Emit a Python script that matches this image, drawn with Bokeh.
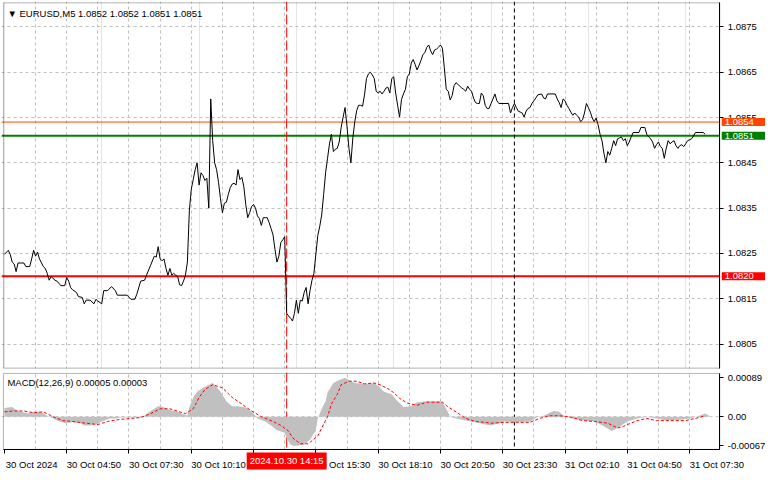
from bokeh.plotting import figure
from bokeh.layouts import column
from bokeh.models import Range1d, FixedTicker, Span, Label, Grid, BoxAnnotation
from bokeh.embed import file_html
from bokeh.resources import INLINE

# ---------------- data (5-minute bars counted from 30 Oct 02:10) ----------------
price_bar = [0, 2, 3, 4, 5, 6, 7, 10, 11, 13, 14, 15, 16, 17, 18, 20, 21, 22, 23, 24,
             26, 27, 29, 31, 32, 33, 34, 35, 37, 38, 40, 41, 42, 44, 46, 47, 48, 50, 51, 53,
             55, 57, 58, 63, 65, 67, 68, 70, 72, 73, 75, 77, 78, 79, 80, 81, 82, 83, 84, 85,
             86, 87, 88, 89, 90, 91, 92, 93, 94, 95, 96, 97, 98, 99,
             100, 101, 102, 103, 104, 105, 106, 107, 108, 109, 110, 111, 112, 113, 114, 115, 116, 117, 118, 119,
             120, 121, 122, 123, 124, 125, 126, 127, 128, 129, 130, 131, 132, 133, 134, 135, 136, 137, 138, 139,
             140, 141, 142, 143, 144, 145, 146, 147, 148, 149, 150, 151, 152, 153, 154, 155, 156, 157, 158, 159,
             160, 161, 162, 163, 164, 165, 166, 167, 168, 169, 170, 171, 172, 173, 174, 175, 176, 177, 178, 179,
             180, 181, 182, 183, 184, 185, 186, 187, 188, 189, 190, 191, 192, 193, 194, 195, 196, 197, 198, 199,
             200, 201, 202, 203, 204, 205, 206, 207, 208, 209, 210, 211, 212, 213, 214, 215, 216, 217, 218, 219,
             220, 221, 222, 223, 224, 225, 226, 227, 228, 229, 230, 231, 232, 233, 234, 235, 236, 237, 238, 239,
             240, 241, 242, 243, 244, 245, 246, 247, 248, 249, 250, 251, 252, 253, 254, 259,
             260, 261, 262, 263, 264, 265, 266, 267, 268, 269, 270, 271, 272, 273, 274, 276, 277, 278, 279,
             283, 284, 285, 286, 287, 288, 289, 290, 291, 292, 293, 294, 295, 296, 297, 298, 299,
             300, 301, 302, 303, 304, 305, 306, 307, 308, 309, 310, 311, 312, 313, 314, 315, 316, 317, 318, 319,
             320, 321, 322, 323, 326, 327, 329, 330, 331, 332, 333, 334, 335, 336, 337, 338, 339,
             340, 341, 342, 343, 344, 345, 346, 347, 348, 349, 350, 351, 352, 353, 354, 355, 359, 360]
price_close = [1.08248, 1.08257, 1.08248, 1.08231, 1.08227, 1.08210, 1.08229, 1.08229, 1.08221, 1.08221,
               1.08238, 1.08257, 1.08244, 1.08253, 1.08238, 1.08221, 1.08217, 1.08206, 1.08191, 1.08199,
               1.08191, 1.08189, 1.08179, 1.08179, 1.08197, 1.08189, 1.08175, 1.08170, 1.08164, 1.08155,
               1.08153, 1.08139, 1.08147, 1.08147, 1.08139, 1.08149, 1.08145, 1.08139, 1.08168, 1.08168,
               1.08177, 1.08168, 1.08158, 1.08158, 1.08149, 1.08149, 1.08160, 1.08189, 1.08191, 1.08202,
               1.08223, 1.08244, 1.08242, 1.08265, 1.08238, 1.08234, 1.08238, 1.08217, 1.08202, 1.08217,
               1.08202, 1.08206, 1.08202, 1.08199, 1.08181, 1.08179, 1.08189, 1.08202, 1.08231, 1.08344,
               1.08392, 1.08413, 1.08435, 1.08450,
               1.08401, 1.08428, 1.08422, 1.08411, 1.08416, 1.08350, 1.08591, 1.08499, 1.08450, 1.08435,
               1.08407, 1.08371, 1.08340, 1.08361, 1.08363, 1.08380, 1.08395, 1.08403, 1.08405, 1.08401,
               1.08435, 1.08413, 1.08418, 1.08397, 1.08358, 1.08329, 1.08340, 1.08354, 1.08358, 1.08350,
               1.08333, 1.08327, 1.08312, 1.08329, 1.08329, 1.08329, 1.08318, 1.08305, 1.08291, 1.08259,
               1.08231, 1.08244, 1.08274, 1.08280, 1.08287, 1.08118, 1.08112, 1.08107, 1.08101, 1.08118,
               1.08147, 1.08118, 1.08147, 1.08145, 1.08164, 1.08175, 1.08139, 1.08168, 1.08191, 1.08206,
               1.08248, 1.08290, 1.08310, 1.08335, 1.08380, 1.08428, 1.08460, 1.08492, 1.08513, 1.08475,
               1.08480, 1.08482, 1.08496, 1.08528, 1.08551, 1.08572, 1.08530, 1.08482, 1.08450, 1.08505,
               1.08541, 1.08566, 1.08577, 1.08577, 1.08575, 1.08600, 1.08636, 1.08646, 1.08650, 1.08644,
               1.08636, 1.08608, 1.08604, 1.08608, 1.08602, 1.08608, 1.08615, 1.08617, 1.08604, 1.08636,
               1.08640, 1.08604, 1.08577, 1.08551, 1.08590, 1.08602, 1.08612, 1.08640, 1.08646, 1.08670,
               1.08678, 1.08667, 1.08655, 1.08665, 1.08676, 1.08689, 1.08693, 1.08705, 1.08710, 1.08697,
               1.08689, 1.08699, 1.08701, 1.08705, 1.08710, 1.08703, 1.08660, 1.08612, 1.08608, 1.08589,
               1.08598, 1.08620, 1.08627, 1.08623, 1.08619, 1.08615, 1.08612, 1.08608, 1.08619, 1.08612,
               1.08608, 1.08593, 1.08583, 1.08581, 1.08581, 1.08604, 1.08598, 1.08577, 1.08570, 1.08570,
               1.08581, 1.08591, 1.08602, 1.08587, 1.08581, 1.08581,
               1.08560, 1.08572, 1.08581, 1.08572, 1.08564, 1.08562, 1.08560, 1.08551, 1.08564, 1.08570,
               1.08572, 1.08581, 1.08587, 1.08593, 1.08600, 1.08602, 1.08593, 1.08591, 1.08602,
               1.08602, 1.08591, 1.08583, 1.08572, 1.08591, 1.08587, 1.08577, 1.08570, 1.08562, 1.08555,
               1.08560, 1.08555, 1.08551, 1.08541, 1.08545, 1.08560, 1.08581,
               1.08572, 1.08562, 1.08549, 1.08541, 1.08549, 1.08534, 1.08513, 1.08499, 1.08471, 1.08450,
               1.08475, 1.08467, 1.08482, 1.08499, 1.08488, 1.08503, 1.08505, 1.08507, 1.08499, 1.08503,
               1.08488, 1.08496, 1.08507, 1.08517, 1.08517, 1.08528, 1.08528, 1.08513, 1.08507, 1.08503,
               1.08496, 1.08482, 1.08490, 1.08496, 1.08486, 1.08482, 1.08460,
               1.08482, 1.08499, 1.08492, 1.08496, 1.08499, 1.08488, 1.08482, 1.08488, 1.08490, 1.08486,
               1.08492, 1.08499, 1.08501, 1.08503, 1.08509, 1.08517, 1.08517, 1.08513]

hist_bar = [0, 4, 6, 9, 12, 15, 18, 20, 22, 24, 27, 31, 35, 39, 41, 44, 47, 50, 54, 57,
            60, 65, 69, 72, 75, 79, 80, 83, 85, 89, 91, 94, 95, 97, 99, 102, 105, 107, 109, 111,
            114, 117, 120, 123, 125, 127, 129, 130, 134, 137, 140, 144, 145, 147, 149, 151, 154, 157, 160, 161,
            163, 165, 166, 169, 172, 175, 177, 180, 184, 187, 190, 193, 195, 199, 202, 205, 209, 212, 217, 220,
            224, 225, 227, 229, 232, 237, 242, 247, 250, 257, 263, 270, 274, 277, 282, 285, 288, 292, 297, 303,
            308, 312, 315, 320, 325, 330, 335, 340, 347, 352, 357, 360, 362]
hist_macd = [0.00020, 0.00022, 0.00015, 0.00011, 0.00007, 0.00011, 0.00011, 0.00007, 0.00002, -0.00002,
             -0.00009, -0.00015, -0.00013, -0.00015, -0.00020, -0.00020, -0.00018, -0.00011, -0.00004, -0.00004,
             -0.00002, -0.00002, -0.00002, 0.00002, 0.00013, 0.00024, 0.00024, 0.00020, 0.00015, 0.00011,
             0.00007, 0.00002, 0.00022, 0.00044, 0.00057, 0.00066, 0.00073, 0.00077, 0.00068, 0.00057,
             0.00035, 0.00024, 0.00024, 0.00022, 0.00018, 0.00011, 0.00002, -0.00004, -0.00011, -0.00020,
             -0.00031, -0.00037, -0.00048, -0.00064, -0.00067, -0.00066, -0.00064, -0.00053, -0.00031, -0.00004,
             0.00018, 0.00035, 0.00055, 0.00077, 0.00084, 0.00089, 0.00084, 0.00077, 0.00075, 0.00075,
             0.00077, 0.00066, 0.00057, 0.00051, 0.00035, 0.00022, 0.00024, 0.00033, 0.00035, 0.00035,
             0.00035, 0.00033, 0.00018, 0.00000, -0.00004, -0.00009, -0.00013, -0.00018, -0.00020, -0.00011,
             -0.00013, -0.00011, 0.00000, 0.00002, 0.00013, 0.00011, 0.00000, -0.00004, -0.00009, -0.00011,
             -0.00022, -0.00033, -0.00026, -0.00011, -0.00004, 0.00000, -0.00004, -0.00009, -0.00007, -0.00004,
             0.00002, 0.00007, 0.00002]

signal_bar = [0, 5, 10, 15, 20, 25, 30, 35, 42, 48, 53, 58, 65, 70, 75, 80, 85, 90, 93, 97,
              100, 103, 107, 112, 117, 122, 124, 127, 132, 137, 142, 146, 148, 152, 156, 158, 161, 163, 166, 168,
              171, 173, 177, 181, 185, 190, 193, 197, 200, 203, 207, 212, 217, 222, 225, 228, 232, 237, 242, 247,
              250, 257, 263, 270, 275, 280, 285, 290, 297, 303, 310, 315, 318, 325, 330, 335, 342, 350, 355, 360]
signal_val = [0.00011, 0.00013, 0.00013, 0.00009, 0.00011, 0.00000, -0.00009, -0.00011, -0.00015, -0.00018,
              -0.00011, -0.00007, -0.00004, -0.00002, 0.00007, 0.00018, 0.00018, 0.00011, 0.00007, 0.00018,
              0.00044, 0.00062, 0.00073, 0.00066, 0.00044, 0.00029, 0.00022, 0.00013, 0.00000, -0.00009,
              -0.00020, -0.00033, -0.00048, -0.00062, -0.00062, -0.00055, -0.00044, -0.00026, 0.00000, 0.00029,
              0.00051, 0.00073, 0.00081, 0.00081, 0.00075, 0.00077, 0.00073, 0.00064, 0.00055, 0.00042,
              0.00031, 0.00026, 0.00033, 0.00033, 0.00033, 0.00022, 0.00011, -0.00004, -0.00011, -0.00013,
              -0.00015, -0.00013, -0.00013, -0.00013, -0.00004, 0.00002, 0.00002, 0.00000, -0.00009, -0.00011,
              -0.00015, -0.00026, -0.00022, -0.00009, -0.00004, -0.00009, -0.00009, -0.00009, -0.00004, 0.00002]

time_tick_bar = [0, 32, 64, 96, 128, 160, 192, 224, 256, 288, 320, 352]
time_tick_label = ["30 Oct 2024", "30 Oct 04:50", "30 Oct 07:30", "30 Oct 10:10", "30 Oct 12:50",
                   "30 Oct 15:30", "30 Oct 18:10", "30 Oct 20:50", "30 Oct 23:30", "31 Oct 02:10",
                   "31 Oct 04:50", "31 Oct 07:30"]
grid_bar = list(range(16, 368, 16))
price_ticks = [1.0805, 1.0815, 1.0825, 1.0835, 1.0845, 1.0855, 1.0865, 1.0875]
price_tick_labels = ["1.0805", "1.0815", "1.0825", "1.0835", "1.0845", "1.0855", "1.0865", "1.0875"]
macd_ticks = [0.00089, 0.0, -0.00067]
macd_tick_labels = ["0.00089", "0.00", "-0.00067"]

level_prices = [1.0854, 1.0851, 1.0820]
level_labels = ["1.0854", "1.0851", "1.0820"]
level_colors = ["#ff4500", "#008000", "#ff0000"]
level_widths = [1, 2, 2]

crosshair_bar = 145
crosshair_text = "2024.10.30 14:15"
day_separator_bar = 262
title_text = "\u25bc EURUSD,M5  1.0852 1.0852 1.0851 1.0851"
macd_title = "MACD(12,26,9) 0.00005 0.00003"

# ---------------- layout ----------------
FONT = "Liberation Sans"
FS = "9.5px"
GRID = "#c0c0c0"
W = 765
LABEL_SHIFT = 14          # time labels start at their tick (left aligned), in bars

X0, DATA_END = -0.5, 367.5        # visible bar window
XL, XEND = -1.5, 391.0            # frame extent (right part holds the price scale)
P_LO, P_HI = 1.07997, 1.08803     # visible price window
M_LO, M_HI = -0.00075, 0.00099    # visible MACD window

x_range = Range1d(XL, XEND)


def common(p, y_lo, y_hi):
    p.outline_line_color = None
    p.background_fill_color = "white"
    p.border_fill_color = "white"
    ax = p.yaxis[0]
    ax.fixed_location = DATA_END
    ax.bounds = (y_lo, y_hi)
    ax.axis_line_color = "black"
    ax.major_tick_line_color = "black"
    ax.major_tick_in = 0
    ax.major_tick_out = 4
    ax.minor_tick_line_color = None
    ax.major_label_text_font = FONT
    ax.major_label_text_font_size = FS
    ax.major_label_text_color = "black"
    ax.major_label_standoff = 4
    p.add_layout(Grid(dimension=0, ticker=FixedTicker(ticks=grid_bar),
                      grid_line_color=GRID, grid_line_dash="3 3", grid_line_width=1))


def finish(p, y_lo, y_hi):
    p.add_layout(Span(location=crosshair_bar, dimension="height", line_color="red",
                      line_dash="10 3", line_width=1, level="underlay"))
    p.add_layout(Span(location=day_separator_bar, dimension="height", line_color="black",
                      line_dash="4 3", line_width=1, level="underlay"))
    # blank the area outside the chart window (price scale / time scale area)
    p.add_layout(BoxAnnotation(left=DATA_END, fill_color="white", fill_alpha=1,
                               line_color=None, level="underlay"))
    p.add_layout(BoxAnnotation(top=y_lo, fill_color="white", fill_alpha=1,
                               line_color=None, level="underlay"))
    p.add_layout(BoxAnnotation(left=X0, right=DATA_END, bottom=y_lo, top=y_hi,
                               fill_alpha=0, line_color="black", line_width=1, level="guide"))


# main price panel
pad_p = 0.00003
p1 = figure(width=W, height=370, x_range=x_range, y_range=Range1d(P_LO - pad_p, P_HI + pad_p),
            output_backend="svg", toolbar_location=None,
            x_axis_location=None, y_axis_location="right",
            min_border_left=1, min_border_right=0, min_border_top=1, min_border_bottom=1)
p1.yaxis.ticker = FixedTicker(ticks=price_ticks)
p1.yaxis.major_label_overrides = dict(zip(price_ticks, price_tick_labels))
p1.ygrid.grid_line_color = GRID
p1.ygrid.grid_line_dash = "3 3"
common(p1, P_LO, P_HI)
for lv, col, lw in zip(level_prices, level_colors, level_widths):
    p1.add_layout(Span(location=lv, dimension="width", line_color=col, line_width=lw,
                       level="underlay"))
finish(p1, P_LO, P_HI)

p1.line(price_bar, price_close, line_color="black", line_width=1)

for lv, txt, col in zip(level_prices, level_labels, level_colors):
    p1.add_layout(Label(x=DATA_END, y=lv, x_offset=2, text=txt, text_align="left",
                        text_baseline="middle", text_color="white", text_font=FONT,
                        text_font_size=FS, background_fill_color=col,
                        padding=dict(left=3, right=12, top=1, bottom=1)))

p1.add_layout(Label(x=X0, y=P_HI, x_offset=4, y_offset=-5, text=title_text,
                    text_align="left", text_baseline="top", text_color="black",
                    text_font=FONT, text_font_size=FS))

# MACD panel (its lower strip holds the time scale)
pad_m = 0.00002
p2 = figure(width=W, height=103, x_range=x_range, y_range=Range1d(-0.00130, M_HI + pad_m),
            output_backend="svg", toolbar_location=None,
            x_axis_location="below", y_axis_location="right",
            min_border_left=1, min_border_right=0, min_border_top=2, min_border_bottom=0)
p2.yaxis.ticker = FixedTicker(ticks=macd_ticks)
p2.yaxis.major_label_overrides = dict(zip(macd_ticks, macd_tick_labels))
p2.ygrid.grid_line_color = None
p2.xgrid.grid_line_color = None
common(p2, M_LO, M_HI)
xa = p2.xaxis[0]
label_pos = [b + LABEL_SHIFT for b in time_tick_bar]
xa.fixed_location = M_LO
xa.bounds = (X0, DATA_END)
xa.ticker = FixedTicker(ticks=label_pos, minor_ticks=time_tick_bar)
xa.major_label_overrides = dict(zip(label_pos, time_tick_label))
xa.axis_line_color = "black"
xa.major_tick_line_color = None
xa.major_tick_in = 0
xa.major_tick_out = 0
xa.minor_tick_line_color = "black"
xa.minor_tick_in = 0
xa.minor_tick_out = 4
xa.major_label_text_font = FONT
xa.major_label_text_font_size = FS
xa.major_label_text_color = "black"
xa.major_label_standoff = 6

p2.add_layout(Span(location=0, dimension="width", line_color=GRID, line_dash="3 3",
                   level="underlay"))
finish(p2, M_LO, M_HI)

p2.varea(x=hist_bar, y1=0, y2=hist_macd, fill_color="#c0c0c0")
p2.line(signal_bar, signal_val, line_color="red", line_dash="3 2", line_width=1)

p2.add_layout(Label(x=X0, y=M_HI, x_offset=4, y_offset=-4, text=macd_title,
                    text_align="left", text_baseline="top", text_color="black",
                    text_font=FONT, text_font_size=FS))
p2.add_layout(Label(x=crosshair_bar, y=M_LO, y_offset=-3, text=crosshair_text,
                    text_align="center", text_baseline="top", text_color="white",
                    text_font=FONT, text_font_size=FS, background_fill_color="red",
                    padding=dict(left=3, right=3, top=3, bottom=3)))

layout = column(p1, p2, spacing=0)
open("out.html", "w").write(file_html(layout, INLINE))
